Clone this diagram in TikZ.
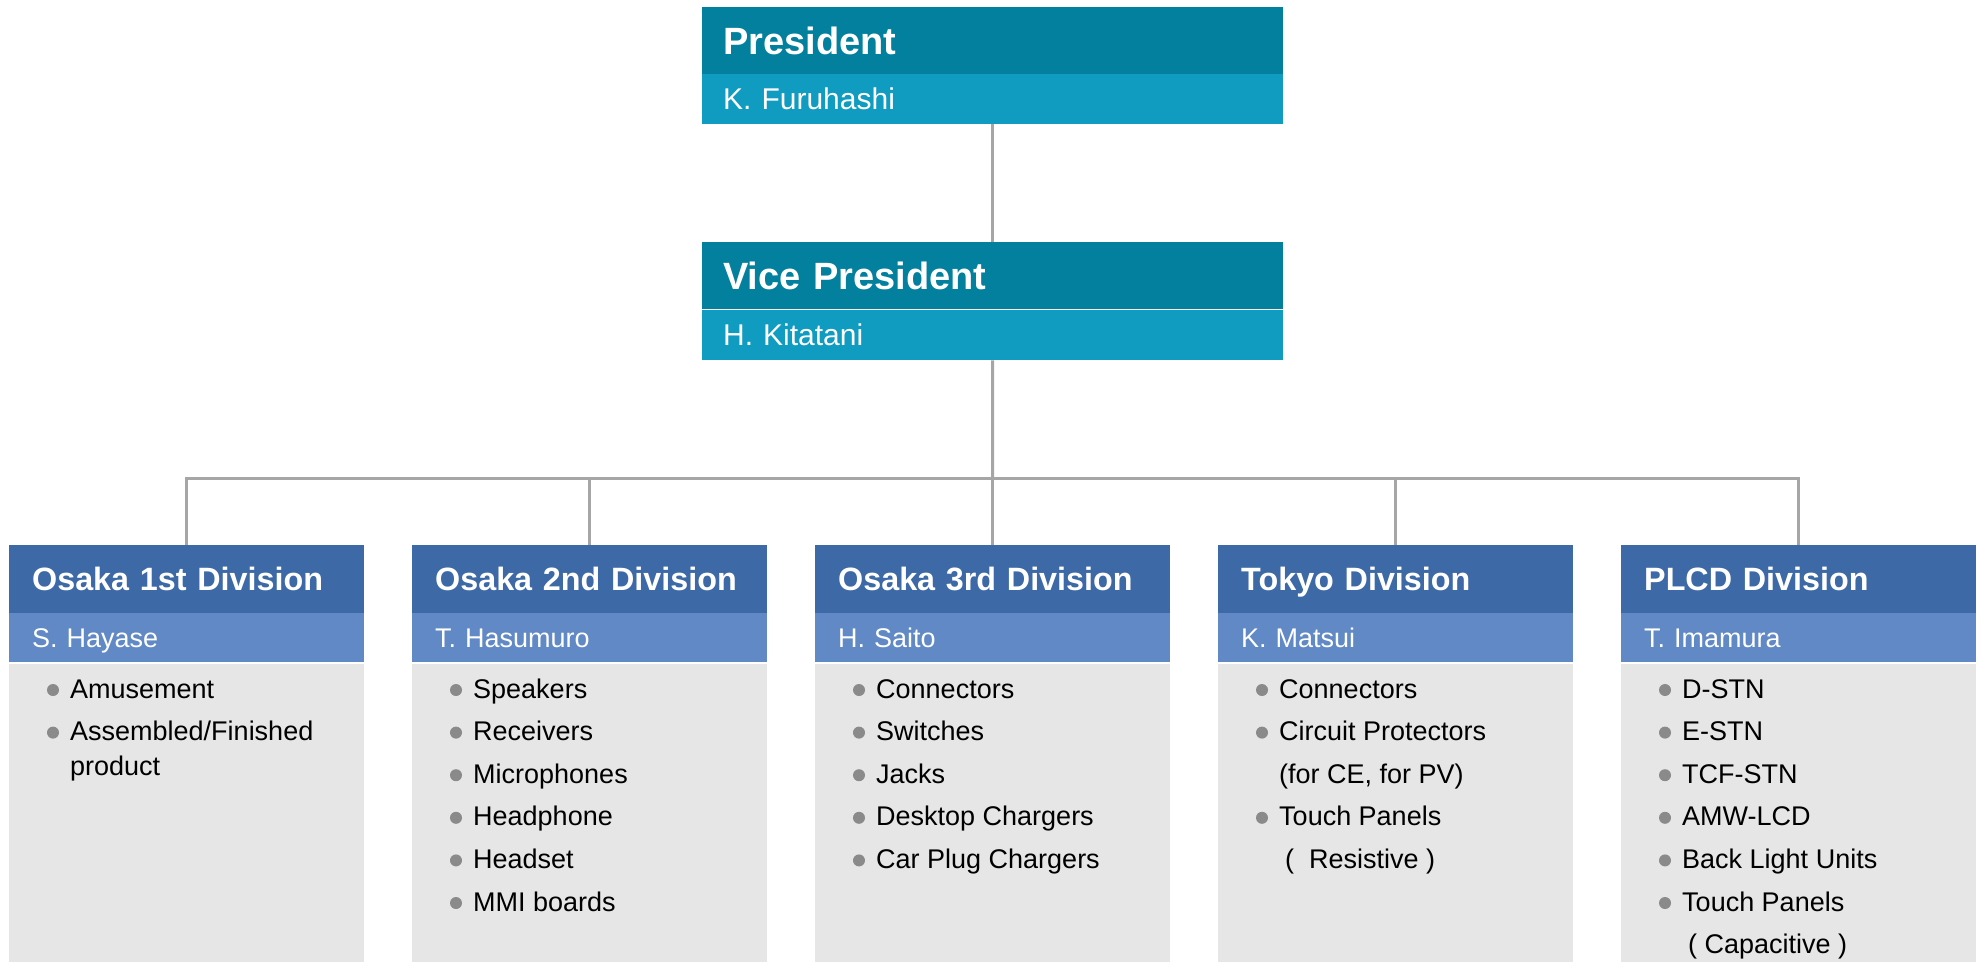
\documentclass[tikz,border=0pt]{standalone}
\usepackage{fontspec}
\setmainfont{Liberation Sans}

\definecolor{topdark}{HTML}{03809E}
\definecolor{toplight}{HTML}{109BC1}
\definecolor{divdark}{HTML}{3D69A6}
\definecolor{divlight}{HTML}{6089C5}
\definecolor{bodygrey}{HTML}{E6E6E6}
\definecolor{bulletgrey}{HTML}{8A8A8A}
\definecolor{linegrey}{HTML}{A6A6A6}

\tikzset{
  toptitle/.style={anchor=north west, fill=topdark, text=white, font=\fontsize{38}{45}\selectfont\bfseries,
    text width=539pt, inner xsep=21pt, inner ysep=0pt, minimum height=67pt, align=left, text height=27pt, text depth=0pt},
  topname/.style={toptitle, fill=toplight, font=\fontsize{30}{36}\selectfont, minimum height=50pt, text height=21.5pt},
  divtitle/.style={anchor=north west, fill=divdark, text=white, font=\fontsize{32.3}{38}\selectfont\bfseries,
    text width=309pt, inner xsep=23pt, inner ysep=0pt, minimum height=68pt, align=left, text height=23pt, text depth=0pt},
  divname/.style={divtitle, fill=divlight, font=\fontsize{27}{32}\selectfont, minimum height=49pt, text height=19.3pt},
  divbody/.style={anchor=north west, fill=bodygrey, minimum width=355pt, minimum height=298pt, inner sep=0pt},
  item/.style={anchor=base west, inner sep=0pt, font=\fontsize{27}{32}\selectfont},
  bul/.style={fill=bulletgrey},
  conn/.style={draw=linegrey, line width=3pt}
}

\begin{document}
\begin{tikzpicture}[x=1pt,y=-1pt]
    \useasboundingbox (0,0) rectangle (1979,962);

    % president and vice president
    \node[toptitle] (pres) at (702,7) {President};
    \node[topname] (presname) at (702,74) {K. Furuhashi};
    \node[toptitle] (vp) at (702,242) {Vice President};
    \node[topname] (vpname) at (702,310) {H. Kitatani};

    % divisions
    \node[divtitle] (osaka1) at (9,545) {Osaka 1st Division};
    \node[divname] (osaka1name) at (9,613) {S. Hayase};
    \node[divbody] (osaka1body) at (9,664) {};

    \node[divtitle] (osaka2) at (412,545) {Osaka 2nd Division};
    \node[divname] (osaka2name) at (412,613) {T. Hasumuro};
    \node[divbody] (osaka2body) at (412,664) {};

    \node[divtitle] (osaka3) at (815,545) {Osaka 3rd Division};
    \node[divname] (osaka3name) at (815,613) {H. Saito};
    \node[divbody] (osaka3body) at (815,664) {};

    \node[divtitle] (tokyo) at (1218,545) {Tokyo Division};
    \node[divname] (tokyoname) at (1218,613) {K. Matsui};
    \node[divbody] (tokyobody) at (1218,664) {};

    \node[divtitle] (plcd) at (1621,545) {PLCD Division};
    \node[divname] (plcdname) at (1621,613) {T. Imamura};
    \node[divbody] (plcdbody) at (1621,664) {};

    % items
    \fill[bul] (53,690) circle (6);
    \node[item] (amuse) at (70,698) {Amusement};
    \fill[bul] (53,732.6) circle (6);
    \node[item] (assembled) at (70,740.6) {Assembled/Finished};
    \node[item] (product) at (70,775) {product};

    \foreach \t [count=\i] in {Speakers,Receivers,Microphones,Headphone,Headset,MMI boards} {
        \fill[bul] (456,647.4+42.6*\i) circle (6);
        \node[item] (osaka2item\i) at (473,655.4+42.6*\i) {\t};
    }

    \foreach \t [count=\i] in {Connectors,Switches,Jacks,Desktop Chargers,Car Plug Chargers} {
        \fill[bul] (859,647.4+42.6*\i) circle (6);
        \node[item] (osaka3item\i) at (876,655.4+42.6*\i) {\t};
    }

    \fill[bul] (1262,690) circle (6);
    \node[item] (tconn) at (1279,698) {Connectors};
    \fill[bul] (1262,732.6) circle (6);
    \node[item] (tcirc) at (1279,740.6) {Circuit Protectors};
    \node[item] (tforce) at (1279,783.2) {(for CE, for PV)};
    \fill[bul] (1262,817.8) circle (6);
    \node[item] (ttouch) at (1279,825.8) {Touch Panels};
    \node[item] (tresist) at (1285,868.4) {(\ \ Resistive )};

    \foreach \t [count=\i] in {D-STN,E-STN,TCF-STN,AMW-LCD,Back Light Units,Touch Panels} {
        \fill[bul] (1665,647.4+42.6*\i) circle (6);
        \node[item] (plcditem\i) at (1682,655.4+42.6*\i) {\t};
    }
    \node[item] (pcap) at (1688,953.6) {( Capacitive )};

    % connectors
    \draw[conn] (presname.south) -- (vp.north);
    \coordinate (bus) at (992.5,478);
    \draw[conn] (vpname.south) -- (bus);
    \foreach \d in {osaka1,osaka2,osaka3,tokyo,plcd}
        \draw[conn] (\d.north) |- (bus);
\end{tikzpicture}
\end{document}
